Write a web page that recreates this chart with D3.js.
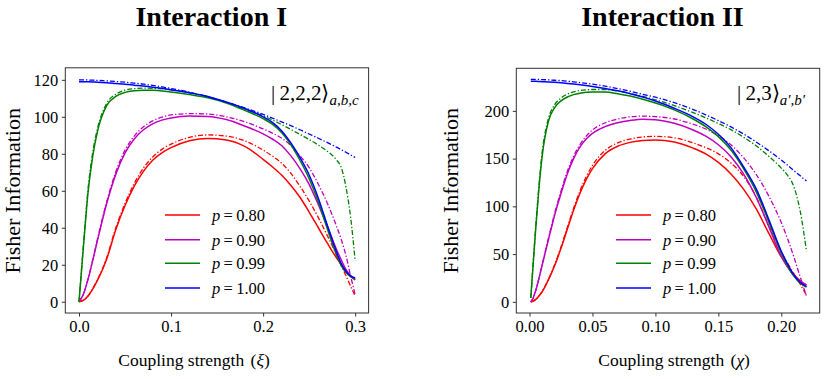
<!DOCTYPE html>
<html>
<head>
<meta charset="utf-8">
<script src="https://cdn.jsdelivr.net/npm/d3@7"></script>
<style>
  body { margin: 0; background: #fff; }
  svg { display: block; }
  text { font-family: "Liberation Serif", "Times New Roman", serif; fill: #000; }
</style>
</head>
<body>
<svg width="831" height="379"></svg>
<script>

// ---- data ----
var pLabels = ["0.80", "0.90", "0.99", "1.00"];
var pColors = ["#ff0000", "#bf00bf", "#008000", "#0000ff"];

// Interaction I : coupling strength xi
var xiGrid = [0, 0.005, 0.01, 0.015, 0.02, 0.03, 0.04, 0.05, 0.06, 0.07, 0.08, 0.09, 0.1, 0.12, 0.14,
  0.16, 0.18, 0.2, 0.21, 0.22, 0.23, 0.24, 0.25, 0.26, 0.27, 0.28, 0.285, 0.29, 0.295, 0.3];
var i1Solid080 = [0, 0.8, 3.2, 7, 11.5, 23, 39, 52, 62.5, 70.5, 76.5, 80.5, 83.3, 87, 88.3,
  87.5, 84, 77, 73, 68.5, 63, 56.5, 48.5, 40, 31.5, 23.5, 20, 16.5, 13.8, 11.8];
var i1Dash080 = [0, 0.8, 3.3, 7.2, 11.8, 23.7, 40, 53.2, 64, 72.3, 78.3, 82.4, 85.2, 88.9, 90.2,
  89.6, 87, 82, 78.8, 75, 69.5, 62.5, 54.5, 45.5, 35.5, 25, 19.5, 14, 8.5, 3];
var i1Solid090 = [0, 4.3, 12.5, 22.5, 33, 53, 69, 80.5, 88, 93, 96.2, 98.2, 99.4, 100.4, 100.2,
  98.5, 95, 90.8, 88, 84.5, 79, 72, 63.5, 52.5, 40.5, 28, 22.5, 17.5, 14, 12];
var i1Dash090 = [0, 4.4, 12.7, 23, 33.8, 54, 70.3, 82, 89.6, 94.6, 97.8, 99.8, 101, 101.7, 101.5,
  100, 97.3, 93.5, 91.2, 88.5, 84.5, 79, 72.5, 63.5, 53, 40.5, 33.5, 25, 14, 4];
var i1Solid099 = [0, 31, 60, 79, 92, 106, 111, 113.2, 114.1, 114.4, 114.3, 114, 113.4, 112, 110.3,
  107.5, 103.5, 99, 96, 91.5, 85, 76.5, 66.5, 54, 39, 25, 19.5, 15.8, 13.5, 12.3];
var i1Dash099 = [0, 32, 62, 81, 93.5, 107.2, 112.2, 114.4, 115.2, 115.5, 115.4, 115.1, 114.6, 113, 110.8,
  107.8, 104, 100.5, 98.3, 95.8, 93.2, 90.5, 87.7, 84.7, 81.3, 76.5, 72.5, 62, 46, 22];
var i1Solid100 = [119, 119, 118.9, 118.8, 118.7, 118.4, 118, 117.6, 117.1, 116.6, 116, 115.4, 114.6, 113, 111,
  108, 104.5, 100, 97, 92.5, 86, 78, 68.5, 56, 41, 26.5, 20.5, 16.5, 14, 12.8];
var i1Dash100 = [120, 120, 119.9, 119.8, 119.7, 119.4, 119.1, 118.7, 118.2, 117.7, 117, 116.2, 115.3, 113.3, 110.8,
  108, 104.8, 101.3, 99.3, 97.3, 95.2, 93, 90.7, 88.4, 86, 83.5, 82.2, 80.8, 79.4, 78];

// Interaction II : coupling strength chi
var chiGrid = [0.001, 0.0025, 0.005, 0.0075, 0.01, 0.015, 0.02, 0.025, 0.03, 0.035, 0.04, 0.045, 0.05,
  0.06, 0.07, 0.08, 0.09, 0.1, 0.115, 0.13, 0.14, 0.15, 0.16, 0.17, 0.18, 0.19, 0.2, 0.205, 0.21, 0.215, 0.22];
var i2Solid080 = [0, 0.5, 2.5, 6, 10.5, 23, 38, 56, 76, 96, 113.5, 128, 139.5,
  155, 163, 167, 169, 169.5, 167.5, 161, 155, 146, 134, 118, 97.5, 72, 47, 37, 28.5, 22, 17.5];
var i2Dash080 = [0, 0.5, 2.6, 6.2, 10.8, 23.5, 39, 57.5, 78, 98, 116, 131, 143,
  158.5, 166.5, 170.5, 172.7, 173.3, 171.8, 166.5, 161.5, 155, 145.5, 131.5, 110, 80, 52, 40.5, 29.5, 18.5, 7];
var i2Solid090 = [0, 3, 12, 24.5, 38, 65, 91, 113.5, 134, 150, 162, 170.5, 176.5,
  183.5, 187.5, 190, 191.3, 190.8, 187, 180, 173.5, 164.5, 152, 134, 109.5, 79, 47.5, 36.5, 27.5, 21.5, 17.8];
var i2Dash090 = [0, 3.1, 12.3, 25, 39, 66.5, 93, 116, 136.5, 152.5, 164.5, 173.5, 180,
  187.5, 191.5, 193.8, 194.5, 194, 191.5, 186, 181, 174, 164.5, 151, 133.5, 111, 83, 66, 47, 26, 6];
var i2Solid099 = [4, 32, 78, 119, 152, 189, 203.5, 210.5, 214.5, 217, 218.5, 219.4, 219.9,
  219.8, 218, 215.5, 212.2, 208.2, 201, 191.5, 183.5, 173, 159, 139.5, 115.5, 84, 51, 37.5, 27, 19.5, 15.5];
var i2Dash099 = [4, 33, 80, 122, 156, 192, 206.5, 213.5, 217.5, 220, 221.3, 222, 222.4,
  222.3, 220.8, 218.3, 215.2, 211.6, 205.6, 198.2, 192.8, 186.8, 180.3, 172.5, 163.5, 152.5, 140, 132.5, 120.5, 95, 53];
var i2Solid100 = [231, 231, 231, 230.8, 230.6, 230.3, 229.9, 229.4, 228.8, 228.1, 227.4, 226.5, 225.6,
  223.5, 221, 218, 214.5, 210.3, 202.8, 193.8, 186, 175.5, 161.5, 141.5, 118.5, 86.5, 53, 39.5, 28, 20.5, 16];
var i2Dash100 = [233, 233, 233, 232.9, 232.8, 232.5, 232.1, 231.7, 231.1, 230.4, 229.7, 228.9, 228,
  225.9, 223.4, 220.5, 217.4, 214.3, 208.6, 201.4, 195.9, 189.8, 183.2, 175.8, 167.5, 158.4, 148.5, 143.1, 137.5, 132, 126.5];

var xTicks1 = [0, 0.1, 0.2, 0.3];
var yTicks1 = [0, 20, 40, 60, 80, 100, 120];
var xTicks2 = [0, 0.05, 0.1, 0.15, 0.2];
var yTicks2 = [0, 50, 100, 150, 200];

// ---- drawing ----
var svg = d3.select("svg");
var serif = '"Liberation Serif", "Times New Roman", serif';

function drawPanel(cfg) {
  var x = d3.scaleLinear().domain(cfg.xDomain).range([cfg.left, cfg.right]);
  var y = d3.scaleLinear().domain(cfg.yDomain).range([cfg.bottom, cfg.top]);
  var g = svg.append("g");

  g.append("clipPath").attr("id", cfg.id + "-clip")
    .append("rect")
      .attr("x", cfg.left).attr("y", cfg.top)
      .attr("width", cfg.right - cfg.left).attr("height", cfg.bottom - cfg.top);

  var line = d3.line()
      .x(function(d) { return x(d[0]); })
      .y(function(d) { return y(d[1]); })
      .curve(d3.curveMonotoneX);

  var curves = g.append("g").attr("clip-path", "url(#" + cfg.id + "-clip)");
  cfg.series.forEach(function(s, i) {
    var pts = function(vals) { return cfg.grid.map(function(v, j) { return [v, vals[j]]; }); };
    curves.append("path")
      .attr("d", line(pts(s[0])))
      .attr("fill", "none")
      .attr("stroke", pColors[i])
      .attr("stroke-width", 1.5);
    curves.append("path")
      .attr("d", line(pts(s[1])))
      .attr("fill", "none")
      .attr("stroke", pColors[i])
      .attr("stroke-width", 1.3)
      .attr("stroke-dasharray", "5,2,1.3,2");
  });

  // axes
  var xa = g.append("g").attr("transform", "translate(0," + cfg.bottom + ")")
      .call(d3.axisBottom(x).tickValues(cfg.xTicks).tickFormat(d3.format(cfg.xFmt))
        .tickSize(3.5).tickPadding(3.5));
  var ya = g.append("g").attr("transform", "translate(" + cfg.left + ",0)")
      .call(d3.axisLeft(y).tickValues(cfg.yTicks).tickSize(3.5).tickPadding(3.5));
  [xa, ya].forEach(function(a) {
    a.select(".domain").remove();
    a.selectAll("line").attr("stroke", "#333");
    a.selectAll("text").attr("font-family", serif).attr("font-size", "16.5px").attr("fill", "#000");
  });

  g.append("rect")
    .attr("x", cfg.left).attr("y", cfg.top)
    .attr("width", cfg.right - cfg.left).attr("height", cfg.bottom - cfg.top)
    .attr("fill", "none").attr("stroke", "#333").attr("stroke-width", 1);

  // titles and labels
  g.append("text")
    .attr("x", cfg.titleX).attr("y", 26)
    .attr("text-anchor", "middle")
    .attr("font-size", "28px").attr("font-weight", "bold")
    .text(cfg.title);

  g.append("text")
    .attr("transform", "translate(" + cfg.yLabelX + ",190.8) rotate(-90)")
    .attr("text-anchor", "middle")
    .attr("font-size", "22px")
    .text("Fisher Information");

  var xl = g.append("text")
    .attr("x", cfg.xLabelX).attr("y", 366)
    .attr("font-size", "17.5px");
  xl.append("tspan").text("Coupling strength ");
  xl.append("tspan").attr("dx", 2).text("(");
  xl.append("tspan").attr("font-style", "italic").text(cfg.sym);
  xl.append("tspan").text(")");

  // state label
  var st = g.append("text")
    .attr("x", cfg.stateX).attr("y", 100)
    .attr("font-size", "21px");
  st.append("tspan").text("|\u2009" + cfg.state + "\u27e9");
  st.append("tspan").attr("dy", 5).attr("font-size", "15px").attr("font-style", "italic")
    .text(cfg.stateSub);

  // legend
  var legRows = [215, 239.7, 263.3, 288];
  pLabels.forEach(function(p, i) {
    g.append("line")
      .attr("x1", cfg.legX).attr("x2", cfg.legX + 35)
      .attr("y1", legRows[i]).attr("y2", legRows[i])
      .attr("stroke", pColors[i]).attr("stroke-width", 1.5);
    var t = g.append("text")
      .attr("x", cfg.legX + 47).attr("y", legRows[i] + 5.8)
      .attr("font-size", "16.5px");
    t.append("tspan").attr("font-style", "italic").text("p");
    t.append("tspan").text("\u2009=\u2009" + p);
  });
}

drawPanel({
  id: "p1", title: "Interaction I", titleX: 211.3,
  left: 65.3, right: 368.6, top: 67.8, bottom: 313,
  xDomain: [-0.0149, 0.3146], yDomain: [-6.1, 126.5],
  xTicks: xTicks1, yTicks: yTicks1, xFmt: ".1f",
  grid: xiGrid,
  series: [[i1Solid080, i1Dash080], [i1Solid090, i1Dash090], [i1Solid099, i1Dash099], [i1Solid100, i1Dash100]],
  yLabelX: 19.5, xLabelX: 118.3, sym: "\u03be",
  stateX: 271, state: "2,2,2", stateSub: "a,b,c",
  legX: 165
});

drawPanel({
  id: "p2", title: "Interaction II", titleX: 662.5,
  left: 516.3, right: 819.7, top: 68.3, bottom: 313,
  xDomain: [-0.0105, 0.2305], yDomain: [-11.7, 244.6],
  xTicks: xTicks2, yTicks: yTicks2, xFmt: ".2f",
  grid: chiGrid,
  series: [[i2Solid080, i2Dash080], [i2Solid090, i2Dash090], [i2Solid099, i2Dash099], [i2Solid100, i2Dash100]],
  yLabelX: 457.5, xLabelX: 598.3, sym: "\u03c7",
  stateX: 737, state: "2,3", stateSub: "a\u2032,b\u2032",
  legX: 616
});
</script>
</body>
</html>
